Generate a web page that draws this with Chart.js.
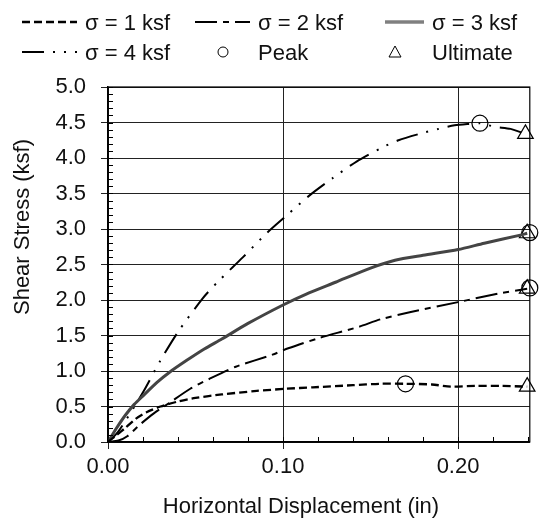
<!DOCTYPE html>
<html>
<head>
<meta charset="utf-8">
<script src="https://cdn.jsdelivr.net/npm/chart.js@4.4.1/dist/chart.umd.min.js"></script>
<style>
  body { margin: 0; background: #fff; }
  canvas { display: block; }
</style>
</head>
<body>
<canvas id="shearChart" width="540" height="523"></canvas>
<script>
// Shear stress vs horizontal displacement, one curve per normal stress
const s1X = [0, 0.005, 0.01, 0.016, 0.022, 0.03, 0.04, 0.05, 0.065, 0.085, 0.102, 0.117, 0.14, 0.155, 0.17, 0.185, 0.196, 0.21, 0.225, 0.2395];
const s1Y = [0, 0.1, 0.2, 0.33, 0.42, 0.5, 0.57, 0.62, 0.67, 0.72, 0.75, 0.77, 0.8, 0.82, 0.82, 0.81, 0.78, 0.79, 0.79, 0.78];

const s2X = [0, 0.006, 0.011, 0.018, 0.026, 0.035, 0.047, 0.058, 0.073, 0.094, 0.103, 0.12, 0.143, 0.156, 0.173, 0.2, 0.223, 0.2395];
const s2Y = [0, 0.02, 0.08, 0.24, 0.4, 0.55, 0.75, 0.89, 1.06, 1.23, 1.32, 1.46, 1.62, 1.73, 1.83, 1.97, 2.09, 2.16];

const s3X = [0, 0.005, 0.01, 0.015, 0.02, 0.028, 0.035, 0.045, 0.055, 0.065, 0.08, 0.1, 0.113, 0.13, 0.15, 0.164, 0.18, 0.2, 0.215, 0.235, 0.2395];
const s3Y = [0, 0.2, 0.38, 0.53, 0.65, 0.84, 0.98, 1.15, 1.31, 1.45, 1.67, 1.93, 2.08, 2.25, 2.45, 2.56, 2.63, 2.71, 2.8, 2.91, 2.94];

const s4X = [0, 0.005, 0.01, 0.02, 0.03, 0.04, 0.054, 0.0625, 0.077, 0.091, 0.102, 0.115, 0.128, 0.142, 0.156, 0.166, 0.178, 0.189, 0.198, 0.206, 0.2125, 0.221, 0.23, 0.2385];
const s4Y = [0, 0.12, 0.3, 0.7, 1.15, 1.55, 2.02, 2.25, 2.6, 2.95, 3.19, 3.47, 3.71, 3.95, 4.14, 4.25, 4.34, 4.41, 4.46, 4.48, 4.49, 4.44, 4.41, 4.34];

const peakX = [0.17, 0.241, 0.241, 0.2125];
const peakY = [0.82, 2.17, 2.95, 4.49];
const ultX = [0.2395, 0.2395, 0.2395, 0.2385];
const ultY = [0.78, 2.16, 2.94, 4.34];

const yTicks = [0, 0.5, 1, 1.5, 2, 2.5, 3, 3.5, 4, 4.5, 5];
const xTicks = [0, 0.1, 0.2];

const FONT = "'Liberation Sans', Arial, sans-serif";

function pts(xs, ys) {
  return xs.map((x, i) => ({ x: x, y: ys[i] }));
}

function lineSet(label, xs, ys, dash, width, color) {
  return {
    label: label,
    data: pts(xs, ys),
    borderColor: color,
    borderWidth: width,
    borderDash: dash,
    pointRadius: 0,
    fill: false,
    tension: 0.25
  };
}

// minor ticks, box border, axis titles and the two-row legend
const decorations = {
  id: 'decorations',
  afterDraw(chart) {
    const ctx = chart.ctx;
    const a = chart.chartArea;
    const xs = chart.scales.x, ys = chart.scales.y;
    ctx.save();
    ctx.strokeStyle = '#000';
    ctx.lineWidth = 1;
    ctx.setLineDash([]);
    ctx.beginPath();
    for (let v = 0.1; v < 5; v += 0.1) {
      const y = Math.round(ys.getPixelForValue(v)) + 0.5;
      ctx.moveTo(a.left, y); ctx.lineTo(a.left + 5, y);
    }
    for (let v = 0.02; v < 0.241; v += 0.02) {
      const x = Math.round(xs.getPixelForValue(v)) + 0.5;
      ctx.moveTo(x, a.bottom); ctx.lineTo(x, a.bottom - 5);
    }
    ctx.stroke();
    ctx.lineWidth = 1.2;
    ctx.strokeRect(a.left, a.top, a.right - a.left, a.bottom - a.top);

    ctx.fillStyle = '#111';
    ctx.font = '22px ' + FONT;
    ctx.textAlign = 'center';
    ctx.textBaseline = 'alphabetic';
    ctx.fillText('Horizontal Displacement (in)', 301, 513);
    ctx.save();
    ctx.translate(29, 227);
    ctx.rotate(-Math.PI / 2);
    ctx.fillText('Shear Stress (ksf)', 0, 0);
    ctx.restore();

    // legend
    ctx.font = '22px ' + FONT;
    ctx.textAlign = 'left';
    const r1 = 22, r2 = 52;
    function sample(x0, x1, y, dash, w, color) {
      ctx.beginPath();
      ctx.setLineDash(dash);
      ctx.lineWidth = w;
      ctx.strokeStyle = color;
      ctx.moveTo(x0, y); ctx.lineTo(x1, y);
      ctx.stroke();
    }
    sample(22, 77, r1, [8, 4], 2.3, '#000');
    sample(195, 250, r1, [22, 6, 6, 6], 2, '#000');
    sample(385, 424, r1, [], 3, '#444');
    sample(385, 424, r1, [], 1, '#bbb');
    sample(22, 77, r2, [22, 9, 2, 9, 2, 9], 2, '#000');
    ctx.setLineDash([]);
    ctx.lineWidth = 1;
    ctx.strokeStyle = '#000';
    ctx.beginPath();
    ctx.arc(223, r2, 5, 0, Math.PI * 2);
    ctx.stroke();
    ctx.beginPath();
    ctx.moveTo(395, r2 - 6); ctx.lineTo(401, r2 + 5); ctx.lineTo(389, r2 + 5); ctx.closePath();
    ctx.stroke();
    ctx.fillStyle = '#111';
    ctx.fillText('σ = 1 ksf', 85, r1 + 8);
    ctx.fillText('σ = 2 ksf', 258, r1 + 8);
    ctx.fillText('σ = 3 ksf', 432, r1 + 8);
    ctx.fillText('σ = 4 ksf', 85, r2 + 8);
    ctx.fillText('Peak', 258, r2 + 8);
    ctx.fillText('Ultimate', 432, r2 + 8);
    ctx.restore();
  }
};

const ctx = document.getElementById('shearChart').getContext('2d');

const shearChart = new Chart(ctx, {
  type: 'line',
  data: {
    datasets: [
      lineSet('σ = 1 ksf', s1X, s1Y, [8, 4], 2.3, '#000'),
      lineSet('σ = 2 ksf', s2X, s2Y, [22, 6, 6, 6], 2, '#000'),
      lineSet('σ = 3 ksf', s3X, s3Y, [], 3, '#444'),
      lineSet('σ = 3 ksf inner', s3X, s3Y, [], 1, '#bbb'),
      lineSet('σ = 4 ksf', s4X, s4Y, [22, 9, 2, 9, 2, 9], 2, '#000'),
      {
        label: 'Peak',
        data: pts(peakX, peakY),
        showLine: false,
        pointStyle: 'circle',
        pointRadius: 8,
        pointBorderColor: '#000',
        pointBorderWidth: 1.2,
        pointBackgroundColor: 'rgba(0,0,0,0)',
        clip: false
      },
      {
        label: 'Ultimate',
        data: pts(ultX, ultY),
        showLine: false,
        pointStyle: 'triangle',
        pointRadius: 9,
        pointBorderColor: '#000',
        pointBorderWidth: 1.2,
        pointBackgroundColor: 'rgba(0,0,0,0)',
        clip: false
      }
    ]
  },
  options: {
    responsive: false,
    animation: false,
    layout: { padding: { top: 87, right: 8, left: 0, bottom: 0 } },
    plugins: { legend: { display: false }, tooltip: { enabled: false } },
    scales: {
      x: {
        type: 'linear',
        min: 0,
        max: 0.241,
        afterBuildTicks: (s) => { s.ticks = xTicks.map(v => ({ value: v })); },
        afterFit: (s) => { s.height = 81; },
        ticks: {
          callback: (v) => v.toFixed(2),
          color: '#111',
          font: { family: FONT, size: 22 },
          padding: 5,
          maxRotation: 0
        },
        grid: { color: '#222', lineWidth: 1, tickLength: 7 },
        border: { color: '#000', width: 1.5 }
      },
      y: {
        min: 0,
        max: 5,
        afterBuildTicks: (s) => { s.ticks = yTicks.map(v => ({ value: v })); },
        afterFit: (s) => { s.width = 108; },
        ticks: {
          callback: (v) => v.toFixed(1),
          color: '#111',
          font: { family: FONT, size: 22 },
          padding: 15
        },
        grid: { color: '#222', lineWidth: 1, tickLength: 7 },
        border: { color: '#000', width: 1.5 }
      }
    }
  },
  plugins: [decorations]
});
</script>
</body>
</html>
